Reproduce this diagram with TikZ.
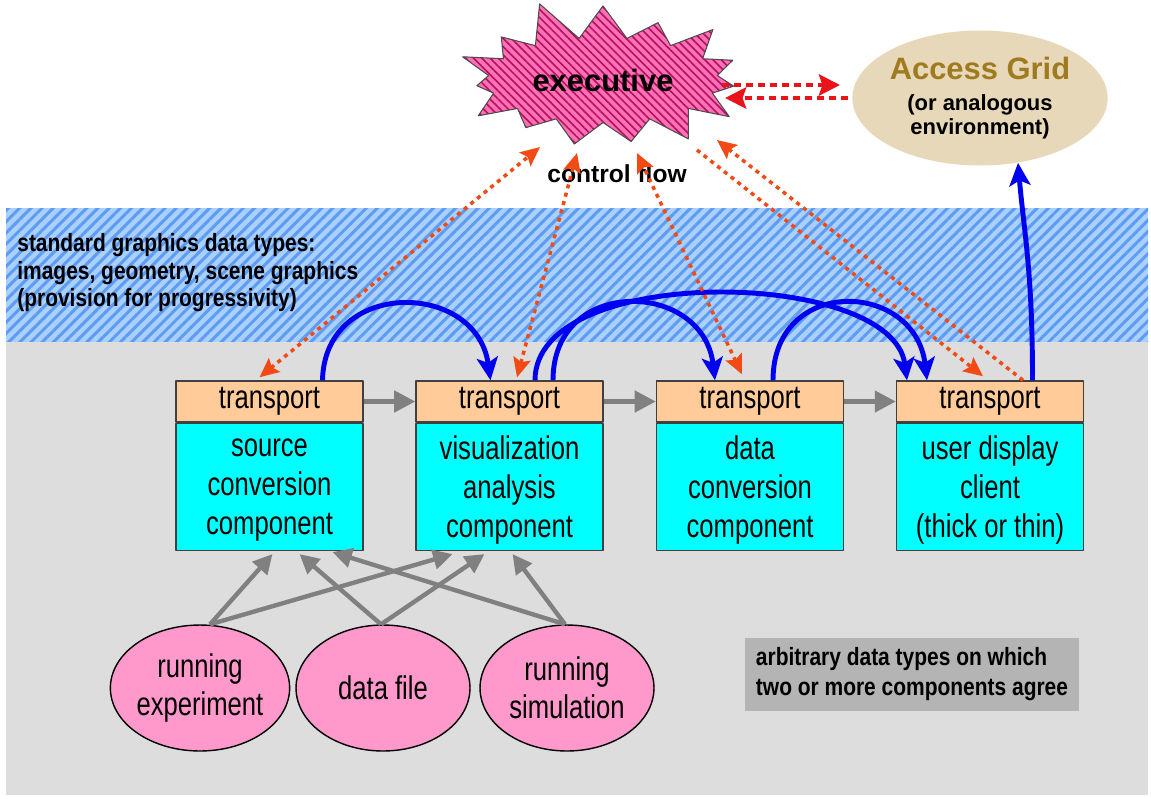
\documentclass[tikz,border=0pt]{standalone}
\usepackage{fontspec}
\setmainfont{Liberation Sans}
\newfontfamily\narrowfont[FakeStretch=0.78]{Liberation Sans}
\newfontfamily\condfont[FakeStretch=0.84]{Liberation Sans}
\usepackage{tikz}
\usetikzlibrary{
  arrows.meta,
  positioning,
  calc,
  shapes.symbols,
  shapes.geometric,
  patterns.meta
}

\definecolor{bgGray}{HTML}{DDDDDD}
\definecolor{bandBlue}{HTML}{A9D0FF}
\definecolor{bandStripe}{HTML}{5E9CF2}
\definecolor{hdrOrange}{HTML}{FFCC99}
\definecolor{cmpCyan}{HTML}{00FFFF}
\definecolor{srcPink}{HTML}{FF99CC}
\definecolor{execPink}{HTML}{FF70B4}
\definecolor{execStripe}{HTML}{B0105E}
\definecolor{agBeige}{HTML}{E6D8B8}
\definecolor{agText}{HTML}{A07A1E}
\definecolor{ctrlRed}{HTML}{F24A14}
\definecolor{linkRed}{HTML}{E8141A}
\definecolor{flowBlue}{HTML}{0000F0}
\definecolor{pipeGray}{HTML}{808080}
\definecolor{noteGray}{HTML}{B4B4B4}

\begin{document}
\begin{tikzpicture}[
  x=0.02cm, y=-0.02cm,
  line cap=butt,
  line join=round,
  hdr/.style={
    draw=black!75,
    line width=0.8pt,
    fill=hdrOrange,
    minimum width=3.74cm,
    minimum height=0.82cm,
    inner sep=0pt,
    font=\narrowfont\fontsize{18.7}{22}\selectfont
  },
  cmp/.style={
    draw=black!75,
    line width=0.8pt,
    fill=cmpCyan,
    minimum width=3.74cm,
    minimum height=2.54cm,
    inner sep=0pt,
    align=center,
    text depth=-3pt,
    font=\narrowfont\fontsize{18.7}{22.3}\selectfont
  },
  src/.style={
    ellipse,
    draw=black,
    line width=0.8pt,
    fill=srcPink,
    minimum width=3.48cm,
    minimum height=2.52cm,
    inner sep=0pt,
    align=center,
    font=\narrowfont\fontsize{18.7}{21.5}\selectfont
  },
  burst/.style={
    starburst,
    starburst points=15,
    starburst point height=0.85cm,
    random starburst=11,
    minimum width=6.3cm,
    minimum height=3.4cm,
    draw=black!70,
    line width=0.6pt,
    preaction={fill=execPink},
    pattern={Lines[angle=-45,distance=3.3pt,line width=0.9pt]},
    pattern color=execStripe,
    font=\bfseries\fontsize{17.6}{20}\selectfont
  },
  agnode/.style={
    ellipse,
    fill=agBeige,
    minimum width=5.1cm,
    minimum height=2.7cm,
    inner sep=0pt,
    align=center,
    font=\bfseries\fontsize{12.5}{13.5}\selectfont
  },
  notebox/.style={
    fill=noteGray,
    minimum width=6.68cm,
    minimum height=1.46cm,
    align=left,
    font=\condfont\bfseries\fontsize{14.2}{17}\selectfont
  },
  bandtext/.style={
    align=left,
    inner sep=0pt,
    font=\condfont\bfseries\fontsize{14.2}{15.6}\selectfont
  },
  blueflow/.style={
    draw=flowBlue,
    line width=2.8pt,
    >={Stealth[length=13pt,width=12pt,inset=3pt]}
  },
  ctrl/.style={
    draw=ctrlRed,
    line width=2pt,
    dash pattern=on 2.3pt off 2.6pt,
    >={Stealth[length=11pt,width=10pt,inset=2pt]}
  },
  aglink/.style={
    draw=linkRed,
    line width=2.6pt,
    dash pattern=on 4pt off 2.8pt,
    >={Stealth[length=12pt,width=12pt,inset=2pt]}
  },
  pipe/.style={
    draw=pipeGray,
    line width=2.5pt,
    >={Triangle[length=12pt,width=12pt]}
  },
  feed/.style={
    draw=pipeGray,
    line width=2.5pt,
    >={Triangle[length=11pt,width=11pt]}
  }
]

\useasboundingbox (0,0) rectangle (1151,798);

% Background regions
\fill[white] (0,0) rectangle (1151,798);
\path[preaction={fill=bandBlue},
      pattern={Lines[angle=45,distance=4.5pt,line width=1.7pt]},
      pattern color=bandStripe] (6,208) rectangle (1148,342);
\fill[bgGray] (6,342) rectangle (1148,795);

% Top nodes
\node[burst] (exec) at (603,80) {executive};
\node[agnode] (ag) at (980,98)
  {\fontsize{17.6}{20}\selectfont\textcolor{agText}{Access Grid}\\[4pt]
   (or analogous\\environment)};
\node[font=\bfseries\fontsize{14}{16}\selectfont] (ctrllab) at (617,174) {control flow};

% Band and note texts
\node[bandtext, anchor=west] (stdtypes) at (17,273)
  {standard graphics data types:\\images, geometry, scene graphics\\(provision for progressivity)};
\node[notebox] (arbnote) at (912,674)
  {arbitrary data types on which\\two or more components agree};

% Components
\node[hdr] (hdr1) at (269.5,401.5) {transport};
\node[hdr] (hdr2) at (509.5,401.5) {transport};
\node[hdr] (hdr3) at (750,401.5)   {transport};
\node[hdr] (hdr4) at (990,401.5)   {transport};

\node[cmp, below=0pt of hdr1] (cmp1) {source\\conversion\\component};
\node[cmp, below=0pt of hdr2] (cmp2) {visualization\\analysis\\component};
\node[cmp, below=0pt of hdr3] (cmp3) {data\\conversion\\component};
\node[cmp, below=0pt of hdr4] (cmp4) {user display\\client\\(thick or thin)};

% Sources
\node[src] (exper) at (200,688) {running\\experiment};
\node[src] (dfile) at (383,688) {data file};
\node[src] (simul) at (567,688) {running\\simulation};

% Transport chain
\draw[pipe, ->] (hdr1.east) -- (hdr2.west);
\draw[pipe, ->] (hdr2.east) -- (hdr3.west);
\draw[pipe, ->] (hdr3.east) -- (hdr4.west);

% Sources into components
\draw[feed, ->] ($(exper.north)+(10,0)$) -- ($(cmp1.south)+(3,3)$);
\draw[feed, ->] ($(exper.north)+(10,0)$) -- ($(cmp2.south)+(-57,3)$);
\draw[feed, ->] ($(dfile.north)+(-2,0)$) -- ($(cmp1.south)+(30,3)$);
\draw[feed, ->] ($(dfile.north)+(-2,0)$) -- ($(cmp2.south)+(-25,3)$);
\draw[feed, ->] ($(simul.north)+(-2,0)$) -- ($(cmp1.south)+(63,1)$);
\draw[feed, ->] ($(simul.north)+(-2,0)$) -- ($(cmp2.south)+(3,3)$);

% Graphics data flow
\draw[blueflow, ->]
  ($(hdr1.north)+(53,0)$)
  .. controls +(2,-102) and +(-14,-100) ..
  ($(hdr2.north)+(-19,0)$);
\draw[blueflow, ->]
  ($(hdr2.north)+(25.5,0)$)
  .. controls +(0,-118) and +(-15,-112) ..
  ($(hdr4.north)+(-83,0)$);
\draw[blueflow, ->]
  ($(hdr2.north)+(43.5,0)$)
  .. controls +(0,-105) and +(-12,-100) ..
  ($(hdr3.north)+(-35,0)$);
\draw[blueflow, ->]
  ($(hdr3.north)+(23,0)$)
  .. controls +(0,-105) and +(-12,-100) ..
  ($(hdr4.north)+(-63,0)$);
\draw[blueflow, ->]
  ($(hdr4.north)+(42.5,0)$)
  .. controls +(0,-110) and +(6,70) ..
  ($(ag.south)+(38,-3)$);

% Control flow
\draw[ctrl, <->] ($(hdr1.north)+(-10,-3)$) -- ($(exec.center)+(-63,67)$);
\draw[ctrl, <->] ($(hdr2.north)+(7.5,-3)$) -- ($(exec.center)+(-26,73)$);
\draw[ctrl, <->] ($(hdr3.north)+(-8,-6)$)  -- ($(exec.center)+(34,73)$);
\draw[ctrl, ->]  ($(exec.center)+(94,70)$) -- ($(hdr4.north)+(-7,-4)$);
\draw[ctrl, ->]  ($(hdr4.north)+(33,0)$)   -- ($(exec.center)+(114,60)$);

% Executive <-> Access Grid
\draw[aglink, ->] ($(exec.center)+(119,5)$) -- ($(ag.west)+(-12,-13)$);
\draw[aglink, ->] ($(ag.west)+(-4,0)$) -- ($(exec.center)+(122,18)$);

\end{tikzpicture}
\end{document}
